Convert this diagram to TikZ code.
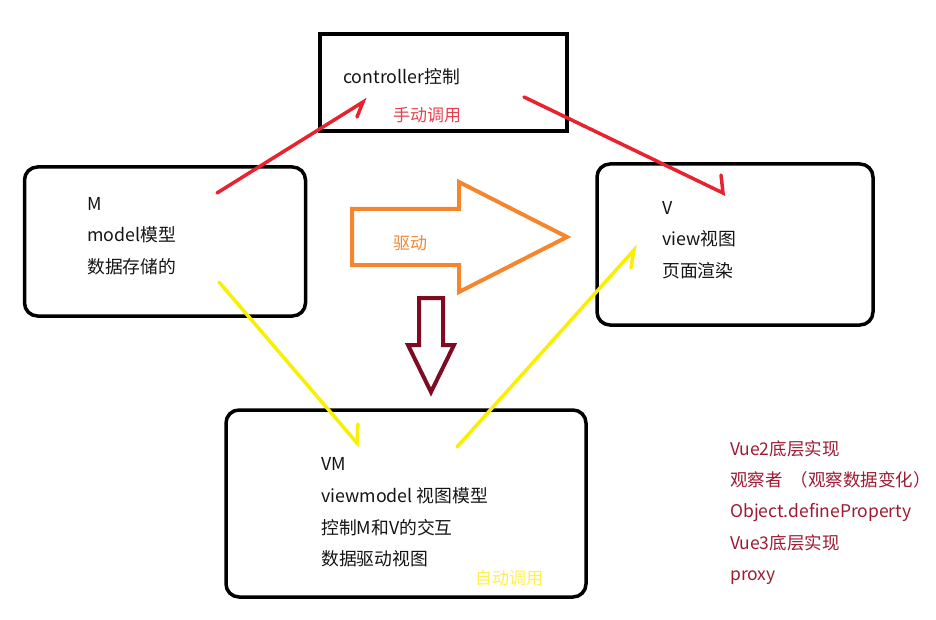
\documentclass[tikz,border=0pt]{standalone}
\usepackage{fontspec}
\setmainfont{Noto Sans CJK SC}
\definecolor{arrred}{HTML}{E8222E}
\definecolor{arryel}{HTML}{F8F000}
\definecolor{orng}{HTML}{F5862E}
\definecolor{maroonarr}{HTML}{7E0B22}
\definecolor{noteRed}{HTML}{9C1B33}
\definecolor{manualred}{HTML}{E5404F}
\definecolor{autoyel}{HTML}{FFF04A}
\definecolor{txt}{HTML}{141414}
\begin{document}
\begin{tikzpicture}[x=1pt,y=-1pt,
  box/.style={draw=black,line width=3.5pt,rounded corners=13pt,inner sep=0pt},
  sqbox/.style={draw=black,line width=3.5pt,inner sep=0pt},
  lbl/.style={inner sep=0pt,anchor=west,align=left,text=txt,font=\fontsize{17.8}{31.6}\selectfont},
  note/.style={inner sep=0pt,font=\fontsize{17}{20}\selectfont},
  redline/.style={draw=arrred,line width=3.5pt,line cap=round},
  yelline/.style={draw=arryel,line width=3.5pt,line cap=round},
  block/.style={line width=4pt,line join=miter}]
\useasboundingbox (0,0) rectangle (936,620);
% boxes
\node[sqbox,minimum width=247pt,minimum height=97pt] (C) at (443.5,82.5) {};
\node[box,minimum width=281pt,minimum height=149pt] (M) at (165,241.5) {};
\node[box,minimum width=276pt,minimum height=161pt] (V) at (735,244.5) {};
\node[box,minimum width=360pt,minimum height=187pt] (VM) at (406,503.5) {};
% texts
\node[lbl] (Ct) at (343,77) {controller控制};
\node[note,text=manualred] (Cman) at (427,115) {手动调用};
\node[lbl] (Mt) at (87,236) {M\\model模型\\数据存储的};
\node[lbl] (Vt) at (662,240) {V\\view视图\\页面渲染};
\node[lbl] (VMt) at (321,512.5) {VM\\viewmodel 视图模型\\控制M和V的交互\\数据驱动视图};
\node[note,text=autoyel] (VMauto) at (509,578) {自动调用};
\node[lbl,text=noteRed,font=\fontsize{17.5}{31.3}\selectfont] (notes) at (730,512.5)
  {Vue2底层实现\\观察者\ \ （观察数据变化）\\Object.defineProperty\\Vue3底层实现\\proxy};
\node[note,text=orng] (drive) at (410,243) {驱动};
% block arrows
\draw[block,draw=orng] (352,209) -- (459,209) -- (459,182) -- (567,237) -- (459,292) -- (459,265) -- (352,265) -- cycle;
\draw[block,draw=maroonarr] (419,298) -- (443,298) -- (443,345) -- (454,345) -- (431,392) -- (408,345) -- (419,345) -- cycle;
% connector coordinates
\coordinate (r1s) at (217,193); \coordinate (r1t) at (363,102); \coordinate (r1b) at (357,117);
\coordinate (r2s) at (524,97);  \coordinate (r2t) at (723,193); \coordinate (r2b) at (721,175);
\coordinate (y1s) at (219,282); \coordinate (y1t) at (357,443); \coordinate (y1b) at (358,424);
\coordinate (y2s) at (457,447); \coordinate (y2t) at (634,250); \coordinate (y2b) at (631,268);
% half arrows
\draw[redline] (r1s) -- (r1t) -- (r1b);
\draw[redline] (r2s) -- (r2t) -- (r2b);
\draw[yelline] (y1s) -- (y1t) -- (y1b);
\draw[yelline] (y2s) -- (y2t) -- (y2b);
\end{tikzpicture}
\end{document}
